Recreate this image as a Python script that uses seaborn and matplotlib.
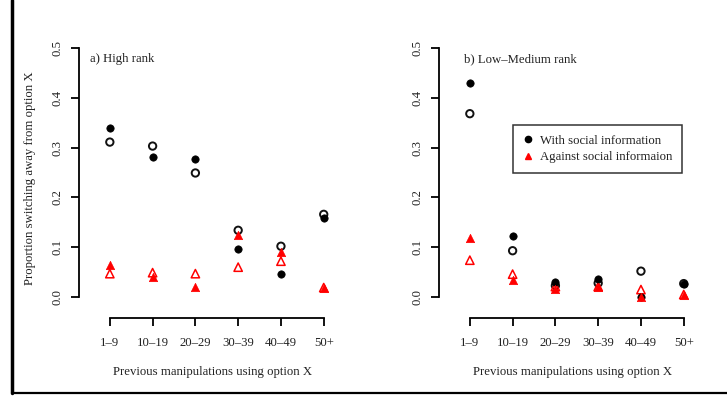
import matplotlib
matplotlib.use("Agg")
import matplotlib.pyplot as plt
from matplotlib.lines import Line2D
import seaborn as sns
import pandas as pd

# Data
groups = ["1\u20139", "10\u201319", "20\u201329", "30\u201339", "40\u201349", "50+"]

# a) High rank
high_with_filled = [0.340, 0.281, 0.277, 0.097, 0.047, 0.158]
high_with_open = [0.311, 0.303, 0.249, 0.134, 0.102, 0.166]
high_against_filled = [0.065, 0.040, 0.021, 0.125, 0.091, 0.019]
high_against_open = [0.047, 0.049, 0.047, 0.060, 0.072, 0.019]

# b) Low-Medium rank
low_with_filled = [0.429, 0.123, 0.030, 0.037, 0.000, 0.027]
low_with_open = [0.368, 0.093, 0.023, 0.028, 0.052, 0.027]
low_against_filled = [0.119, 0.035, 0.017, 0.020, 0.000, 0.005]
low_against_open = [0.074, 0.046, 0.021, 0.021, 0.015, 0.005]

panel_titles = ["a) High rank", "b) Low\u2013Medium rank"]
xlabel = "Previous manipulations using option X"
ylabel = "Proportion switching away from option X"
legend_labels = ["With social information", "Against social informaion"]
yticks = [0.0, 0.1, 0.2, 0.3, 0.4, 0.5]

FS = 9.2

sns.set_style("ticks")
plt.rcParams["font.family"] = ["Liberation Serif", "DejaVu Serif"]
plt.rcParams["font.size"] = FS

fig = plt.figure(figsize=(7.27, 4.08), dpi=100)
ax_left = fig.add_axes([0.1087, 0.2206, 0.366, 0.6864])
ax_right = fig.add_axes([0.6039, 0.2206, 0.366, 0.6864])

panels = [
    (ax_left, high_with_open, high_with_filled, high_against_open, high_against_filled),
    (ax_right, low_with_open, low_with_filled, low_against_open, low_against_filled),
]

pos = list(range(len(groups)))

for i, (ax, w_open, w_fill, a_open, a_fill) in enumerate(panels):
    df = pd.DataFrame({"pos": pos, "w_open": w_open, "w_fill": w_fill,
                       "a_open": a_open, "a_fill": a_fill})
    sns.scatterplot(data=df, x="pos", y="w_open", ax=ax, marker="o", s=28,
                    facecolor="none", edgecolor="#111111", linewidth=1.4, zorder=3)
    sns.scatterplot(data=df, x="pos", y="w_fill", ax=ax, marker="o", s=28,
                    color="black", edgecolor="black", linewidth=0.5, zorder=4)
    sns.scatterplot(data=df, x="pos", y="a_open", ax=ax, marker="^", s=36,
                    facecolor="none", edgecolor="red", linewidth=1.1, zorder=3)
    sns.scatterplot(data=df, x="pos", y="a_fill", ax=ax, marker="^", s=36,
                    color="red", edgecolor="red", linewidth=0.5, zorder=4)

    ax.set_xlim(-0.72, 5.5)
    ax.set_ylim(-0.042, 0.52)
    ax.set_xticks(pos)
    ax.set_xticklabels(groups)
    ax.set_yticks(yticks)
    ax.set_yticklabels([f"{v:.1f}" for v in yticks], rotation=90, va="center")
    ax.spines["top"].set_visible(False)
    ax.spines["right"].set_visible(False)
    ax.spines["left"].set_bounds(0, 0.5)
    ax.spines["bottom"].set_bounds(0, 5)
    for sp in ("left", "bottom"):
        ax.spines[sp].set_linewidth(1.3)
        ax.spines[sp].set_color("black")
    ax.tick_params(axis="both", length=6, width=1.3, color="black",
                   labelsize=FS, labelcolor="#222222")
    ax.tick_params(axis="y", pad=5)
    ax.tick_params(axis="x", pad=8)
    ax.set_xlabel(xlabel, fontsize=FS, labelpad=12, color="#222222")
    ax.set_ylabel(ylabel if i == 0 else "", fontsize=FS, labelpad=11, color="#222222")
    ax.text(-0.46 if i == 0 else -0.14, 0.478, panel_titles[i], fontsize=FS,
            va="center", ha="left", color="#222222")

handles = [
    Line2D([], [], marker="o", linestyle="none", color="black", markersize=4.5),
    Line2D([], [], marker="^", linestyle="none", color="red", markersize=5),
]
leg = ax_right.legend(handles, legend_labels, loc="upper left",
                      bbox_to_anchor=(513 / 727, 1 - 125 / 408),
                      bbox_transform=fig.transFigure, frameon=True,
                      fancybox=False, fontsize=FS, handlelength=0.9,
                      handletextpad=0.5, borderpad=0.75, labelspacing=0.35,
                      borderaxespad=0)
leg.get_frame().set_edgecolor("black")
leg.get_frame().set_linewidth(1.1)
for t in leg.get_texts():
    t.set_color("#222222")

# thick page border lines on the left and bottom
fig.add_artist(Line2D([12 / 727, 12 / 727], [1, 15 / 408],
                      transform=fig.transFigure, color="black", linewidth=2.5))
fig.add_artist(Line2D([12 / 727, 1], [15 / 408, 15 / 408],
                      transform=fig.transFigure, color="black", linewidth=1.6))

fig.savefig("out.png", dpi=100)
